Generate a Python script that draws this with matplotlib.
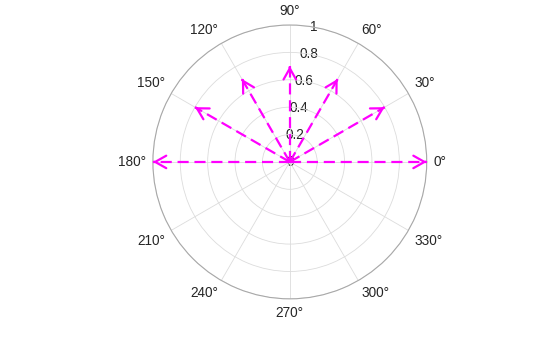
import numpy as np
import matplotlib
matplotlib.use("Agg")
import matplotlib.pyplot as plt

# datos del compass (angulo en grados, longitud)
angulos = [0, 30, 60, 90, 120, 150, 180]
longitudes = [1.0, 0.8, 0.7, 0.7, 0.7, 0.8, 1.0]

theta_ticks = list(range(0, 360, 30))
theta_labels = [f"{t}°" for t in theta_ticks]
r_ticks = [0, 0.2, 0.4, 0.6, 0.8, 1]
r_labels = ["0", "0.2", "0.4", "0.6", "0.8", "1"]

plt.rcParams["font.family"] = ["Liberation Sans", "DejaVu Sans"]

fig = plt.figure(figsize=(5.6, 3.37), dpi=100)
ax = fig.add_axes([0.273, 0.113, 0.489, 0.813], projection="polar")

color = (1, 0, 1)
for ang, lon in zip(angulos, longitudes):
    t = np.deg2rad(ang)
    ax.plot([t, t], [0, lon], color=color, lw=1.6, ls="--", dashes=(5, 2.6))
    ax.annotate("", xy=(t, lon), xytext=(t, lon - 0.01),
                arrowprops=dict(arrowstyle="->,head_length=0.8,head_width=0.45",
                                color=color, lw=1.6, shrinkA=0, shrinkB=0))

ax.set_ylim(0, 1)
ax.set_xticks(np.deg2rad(theta_ticks))
ax.set_xticklabels([])
ax.set_yticks(r_ticks[1:])
ax.set_yticklabels([])
ax.grid(True, color="#dcdcdc", lw=0.6)
ax.spines["polar"].set_color("#a8a8a8")
ax.spines["polar"].set_linewidth(0.8)
ax.tick_params(length=0)

# etiquetas de angulo alineadas hacia afuera, como en MATLAB
for t, lab in zip(theta_ticks, theta_labels):
    c, s = np.cos(np.deg2rad(t)), np.sin(np.deg2rad(t))
    ha = "left" if c > 0.1 else ("right" if c < -0.1 else "center")
    va = "bottom" if s > 0.1 else ("top" if s < -0.1 else "center")
    ax.text(np.deg2rad(t), 1.05, lab, ha=ha, va=va,
            fontsize=9.8, color="#262626", clip_on=False)

for r, lab in zip(r_ticks, r_labels):
    ax.text(np.deg2rad(80), r, lab, ha="center", va="center",
            fontsize=9.8, color="#262626", clip_on=False, zorder=1)

fig.savefig("out.png", dpi=100)
